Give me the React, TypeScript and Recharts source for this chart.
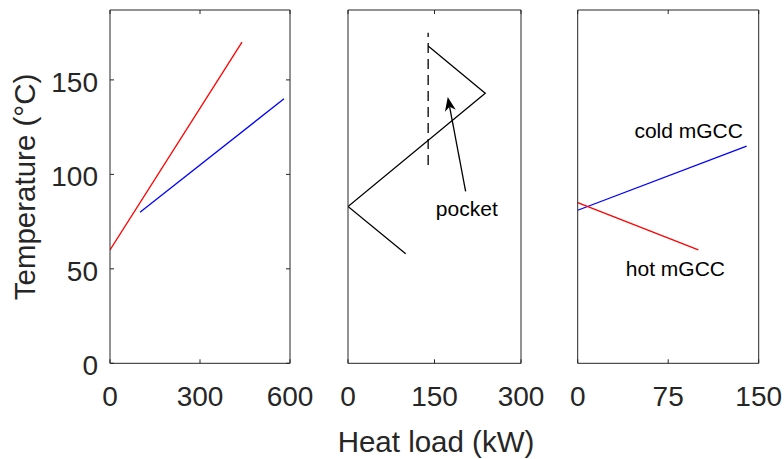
import React from 'react';
import { LineChart, Line, XAxis, YAxis, ReferenceDot, ReferenceLine } from 'recharts';

const axisColor = '#262626';
const font = '"Liberation Sans", Arial, Helvetica, sans-serif';

// left panel: hot and cold composite curves
const hotLoad = [0, 440];
const hotTemp = [60, 170];
const coldLoad = [100, 580];
const coldTemp = [80, 140];

// middle panel: grand composite curve with its pocket
const gccLoad = [100, 0, 238, 139];
const gccTemp = [58, 83, 143, 168];
const pocketLoad = [139, 139];
const pocketTemp = [105, 175];
const pocketArrowLoad = [204, 173];
const pocketArrowTemp = [91, 141];
const pocketLabel = { x: 206, y: 82 };

// right panel: modified GCC
const mHotLoad = [0, 100];
const mHotTemp = [85, 60];
const mColdLoad = [0, 140];
const mColdTemp = [81, 115];
const coldLabel = { x: 92, y: 123 };
const hotLabel = { x: 81, y: 50 };

const tempDomain = [0, 187];
const tempTicks = [0, 50, 100, 150];
const loadTicks1 = [0, 300, 600];
const loadTicks2 = [0, 150, 300];
const loadTicks3 = [0, 75, 150];

const zip = (xs: number[], ys: number[]) => xs.map((x, i) => ({ x, y: ys[i] }));

const H = 459;
const TICK_LEN = 4;

const BottomTick = (p: any) => (
  <g>
    <line x1={p.x} y1={p.y} x2={p.x} y2={p.y - TICK_LEN} stroke={axisColor} />
    <text x={p.x} y={p.y + 42.7} textAnchor="middle" fontSize={28} fontFamily={font} fill={axisColor}>
      {p.payload.value}
    </text>
  </g>
);

const TopTick = (p: any) => (
  <line x1={p.x} y1={p.y} x2={p.x} y2={p.y + TICK_LEN} stroke={axisColor} />
);

const LeftTick = (p: any) => (
  <g>
    <line x1={p.x} y1={p.y} x2={p.x + TICK_LEN} y2={p.y} stroke={axisColor} />
    <text x={p.x - 12} y={p.y} dy="0.43em" textAnchor="end" fontSize={28} fontFamily={font} fill={axisColor}>
      {p.payload.value}
    </text>
  </g>
);

const RightTick = (p: any) => (
  <line x1={p.x} y1={p.y} x2={p.x - TICK_LEN} y2={p.y} stroke={axisColor} />
);

const Arrow = (p: any) => {
  const { x1, y1, x2, y2 } = p;
  const dx = x2 - x1;
  const dy = y2 - y1;
  const len = Math.sqrt(dx * dx + dy * dy) || 1;
  const ux = dx / len;
  const uy = dy / len;
  const L = 14;
  const w = 5.5;
  const bx = x2 - ux * L;
  const by = y2 - uy * L;
  const nx = x2 - ux * L * 0.72;
  const ny = y2 - uy * L * 0.72;
  const pts = `${x2},${y2} ${bx - uy * w},${by + ux * w} ${nx},${ny} ${bx + uy * w},${by - ux * w}`;
  return (
    <g>
      <line x1={x1} y1={y1} x2={nx} y2={ny} stroke="#000" strokeWidth={1.3} />
      <polygon points={pts} fill="#000" />
    </g>
  );
};

const textShape = (value: string) => (p: any) => (
  <text x={p.cx} y={p.cy} dy="0.355em" textAnchor="middle" fontSize={21} fontFamily={font} fill="#000">
    {value}
  </text>
);

interface Series {
  pts: { x: number; y: number }[];
  color: string;
  dash?: string;
}

interface PanelProps {
  left: number;
  width: number;
  plotLeft: number;
  plotRight: number;
  xMax: number;
  xTicks: number[];
  showY: boolean;
  series: Series[];
  children?: React.ReactNode;
}

const Panel = ({ left, width, plotLeft, plotRight, xMax, xTicks, showY, series, children }: PanelProps) => (
  <div style={{ position: 'absolute', left, top: 0 }}>
    <LineChart
      width={width}
      height={H}
      margin={{ top: 9, right: width - plotRight - 1, bottom: 35.7, left: 0 }}
    >
      <XAxis
        xAxisId="b"
        type="number"
        dataKey="x"
        domain={[0, xMax]}
        ticks={xTicks}
        interval={0}
        height={60}
        tickSize={0}
        tickMargin={0}
        tickLine={false}
        tick={BottomTick}
        stroke={axisColor}
        allowDataOverflow
      />
      <XAxis
        xAxisId="t"
        orientation="top"
        type="number"
        dataKey="x"
        domain={[0, xMax]}
        ticks={xTicks}
        interval={0}
        height={1}
        tickSize={0}
        tickMargin={0}
        tickLine={false}
        tick={TopTick}
        stroke={axisColor}
        allowDataOverflow
      />
      <YAxis
        yAxisId="l"
        type="number"
        domain={tempDomain}
        ticks={tempTicks}
        interval={0}
        width={plotLeft}
        tickSize={0}
        tickMargin={0}
        tickLine={false}
        tick={showY ? LeftTick : false}
        stroke={axisColor}
        allowDataOverflow
      />
      <YAxis
        yAxisId="r"
        orientation="right"
        type="number"
        domain={tempDomain}
        ticks={tempTicks}
        interval={0}
        width={1}
        tickSize={0}
        tickMargin={0}
        tickLine={false}
        tick={showY ? RightTick : false}
        stroke={axisColor}
        allowDataOverflow
      />
      {series.map((s, i) => (
        <Line
          key={i}
          xAxisId="b"
          yAxisId="l"
          data={s.pts}
          dataKey="y"
          type="linear"
          stroke={s.color}
          strokeWidth={1.3}
          strokeDasharray={s.dash}
          dot={false}
          activeDot={false}
          isAnimationActive={false}
        />
      ))}
      {children}
    </LineChart>
  </div>
);

export default function App() {
  const arrow = zip(pocketArrowLoad, pocketArrowTemp);
  return (
    <div style={{ position: 'absolute', left: 0, top: 0, width: 784, height: H, background: '#fff' }}>
      <Panel
        left={0}
        width={320}
        plotLeft={110}
        plotRight={290}
        xMax={600}
        xTicks={loadTicks1}
        showY
        series={[
          { pts: zip(hotLoad, hotTemp), color: '#ff0000' },
          { pts: zip(coldLoad, coldTemp), color: '#0000ff' },
        ]}
      />
      <Panel
        left={320}
        width={225}
        plotLeft={28}
        plotRight={201}
        xMax={300}
        xTicks={loadTicks2}
        showY={false}
        series={[
          { pts: zip(gccLoad, gccTemp), color: '#000000' },
          { pts: zip(pocketLoad, pocketTemp), color: '#000000', dash: '10 6' },
        ]}
      >
        <ReferenceLine
          xAxisId="b"
          yAxisId="l"
          segment={[arrow[0], arrow[1]]}
          shape={Arrow}
        />
        <ReferenceDot
          xAxisId="b"
          yAxisId="l"
          x={pocketLabel.x}
          y={pocketLabel.y}
          r={0}
          shape={textShape('pocket')}
        />
      </Panel>
      <Panel
        left={545}
        width={239}
        plotLeft={32.7}
        plotRight={213.7}
        xMax={150}
        xTicks={loadTicks3}
        showY={false}
        series={[
          { pts: zip(mColdLoad, mColdTemp), color: '#0000ff' },
          { pts: zip(mHotLoad, mHotTemp), color: '#ff0000' },
        ]}
      >
        <ReferenceDot
          xAxisId="b"
          yAxisId="l"
          x={coldLabel.x}
          y={coldLabel.y}
          r={0}
          shape={textShape('cold mGCC')}
        />
        <ReferenceDot
          xAxisId="b"
          yAxisId="l"
          x={hotLabel.x}
          y={hotLabel.y}
          r={0}
          shape={textShape('hot mGCC')}
        />
      </Panel>
      <svg
        width={784}
        height={H}
        style={{ position: 'absolute', left: 0, top: 0, pointerEvents: 'none' }}
      >
        <text
          x={35}
          y={187}
          transform="rotate(-90, 35, 187)"
          textAnchor="middle"
          fontSize={29.5}
          fontFamily={font}
          fill={axisColor}
        >
          Temperature (°C)
        </text>
        <text x={436} y={452} textAnchor="middle" fontSize={29.5} fontFamily={font} fill={axisColor}>
          Heat load (kW)
        </text>
      </svg>
    </div>
  );
}
